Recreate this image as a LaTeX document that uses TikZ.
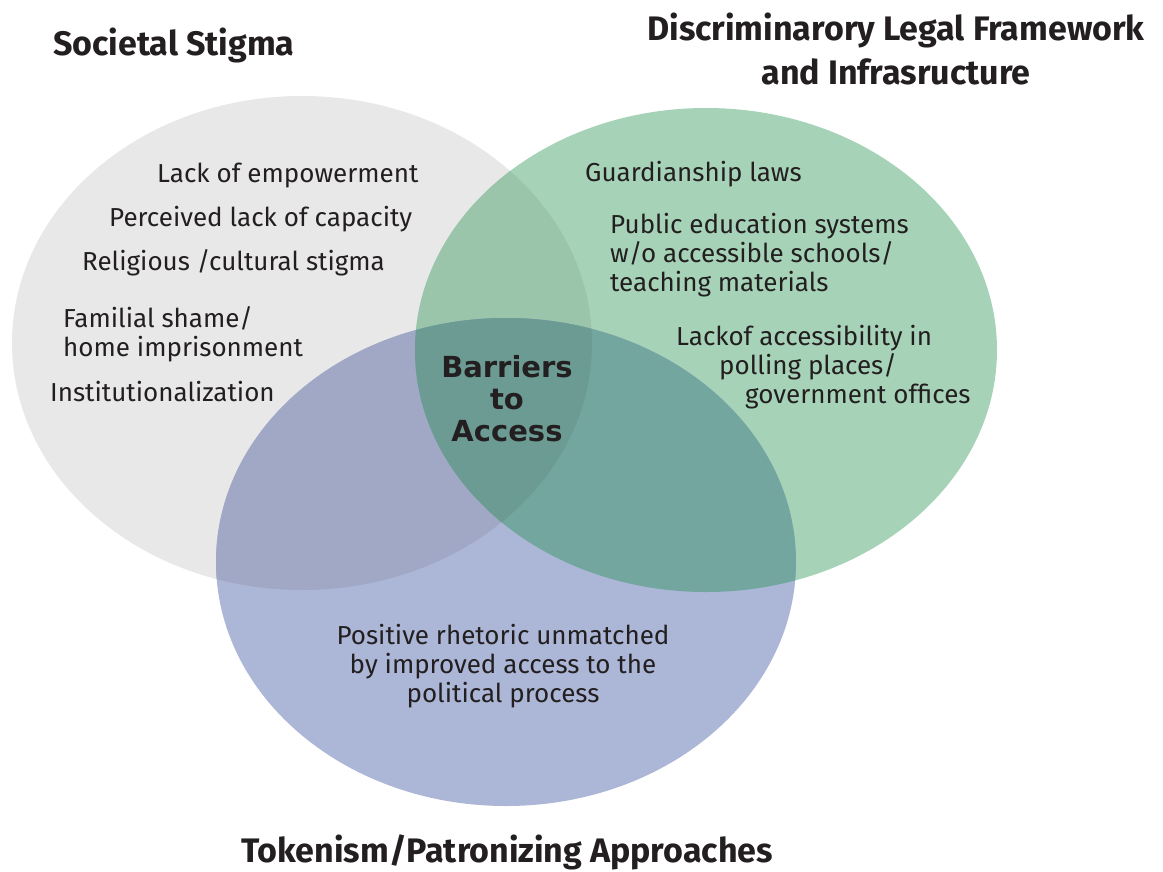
\documentclass[tikz,border=0pt]{standalone}
\usepackage{fontspec}
\setmainfont{Fira Sans}
\newfontfamily\barfont{DejaVu Sans}
\definecolor{cgray}{HTML}{E8E8E8}
\definecolor{cgreen}{HTML}{A6D3B8}
\definecolor{cblue}{HTML}{ACB6D6}
\definecolor{cgg}{HTML}{9BC5AB}
\definecolor{cgb}{HTML}{A0A8C6}
\definecolor{cgnb}{HTML}{73A69F}
\definecolor{cctr}{HTML}{6C9B93}
\definecolor{ink}{HTML}{231F20}
\tikzset{
  item/.style={anchor=base west, inner sep=0pt, text=ink, font=\fontsize{26}{29}\selectfont},
  title/.style={inner sep=0pt, text=ink, font=\fontsize{34}{44}\selectfont\bfseries},
}
\begin{document}
\begin{tikzpicture}[x=1pt,y=-1pt]
\useasboundingbox (0,0) rectangle (1163,871);
\coordinate (G) at (302,343);
\coordinate (R) at (706,350);
\coordinate (B) at (506,562);
\def\gell{(G) ellipse [x radius=290, y radius=247]}
\def\rell{(R) ellipse [x radius=291, y radius=242]}
\def\bell{(B) ellipse [x radius=290, y radius=244]}
\fill[cgray] \gell;
\fill[cgreen] \rell;
\fill[cblue] \bell;
\begin{scope}
  \clip \gell;
  \fill[cgg] \rell;
  \fill[cgb] \bell;
\end{scope}
\begin{scope}
  \clip \rell;
  \fill[cgnb] \bell;
  \clip \gell;
  \fill[cctr] \bell;
\end{scope}
% titles (multi-line nodes: base = last line)
\node[title, anchor=base west] (t1) at (53,55) {Societal Stigma};
\node[title, anchor=base, align=center] (t2) at (896,84) {Discriminarory Legal Framework\\and Infrasructure};
\node[title, anchor=base] (t3) at (507,862) {Tokenism/Patronizing Approaches};
% societal items
\node[item] (s1) at (157,182) {Lack of empowerment};
\node[item] (s2) at (109,226) {Perceived lack of capacity};
\node[item] (s3) at (82,270) {Religious /cultural stigma};
\node[item, align=left] (s4) at (63,356) {Familial shame/\\home imprisonment};
\node[item] (s5) at (50,401) {Institutionalization};
% legal items
\node[item] (l1) at (585,181) {Guardianship laws};
\node[item, align=left] (l2) at (610,291) {Public education systems\\w/o accessible schools/\\teaching materials};
\node[item] (l3) at (676,345) {Lackof accessibility in};
\node[item] (l4) at (719,374) {polling places/};
\node[item] (l5) at (745,403) {government offices};
% tokenism item
\node[item, anchor=base, align=center] (p1) at (503,702) {Positive rhetoric unmatched\\by improved access to the\\political process};
% centre
\node[inner sep=0pt, anchor=base, align=center, text=ink, font=\fontsize{29}{32}\selectfont\barfont\bfseries] (c) at (507,441) {Barriers\\to\\Access};
\end{tikzpicture}
\end{document}
